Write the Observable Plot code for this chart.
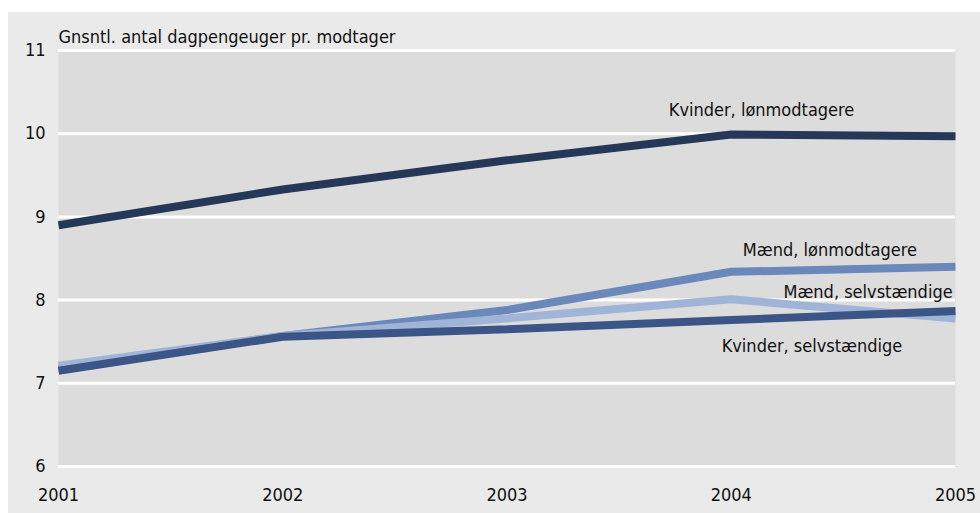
<!DOCTYPE html>
<html>
<head>
<meta charset="utf-8">
<script src="https://cdn.jsdelivr.net/npm/d3@7"></script>
<script src="https://cdn.jsdelivr.net/npm/@observablehq/plot@0.6"></script>
<style>
  html, body { margin: 0; padding: 0; background: #ffffff; }
  #wrap { position: relative; width: 980px; height: 513px; overflow: hidden; }
  #bg { position: absolute; left: 8px; top: 12px; width: 972px; height: 501px; background: #eaeaea; }
  #chart { position: absolute; left: 0; top: 0; }
  #chart svg { background: transparent !important; }
</style>
</head>
<body>
<div id="wrap"><div id="bg"></div><div id="chart"></div></div>
<script>
const years = [2001, 2002, 2003, 2004, 2005];
const seriesNames = ["Mænd, lønmodtagere", "Mænd, selvstændige", "Kvinder, selvstændige", "Kvinder, lønmodtagere"];
const kvinderLon = [8.90, 9.33, 9.68, 9.99, 9.97];
const maendLon = [7.17, 7.57, 7.88, 8.34, 8.40];
const maendSelv = [7.21, 7.57, 7.78, 8.01, 7.78];
const kvinderSelv = [7.15, 7.56, 7.65, 7.76, 7.87];
const yTicks = [6, 7, 8, 9, 10, 11];
const yTitle = "Gnsntl. antal dagpengeuger pr. modtager";
const labelX = [2004.44, 2004.61, 2004.36, 2004.135];
const labelY = [8.60, 8.09, 7.44, 10.28];

const valuesBySeries = [maendLon, maendSelv, kvinderSelv, kvinderLon];
const colors = ["#6b88bb", "#a0b4d8", "#3c5587", "#253858"];
const rows = [];
seriesNames.forEach((s, i) => years.forEach((yr, j) => rows.push({series: s, year: yr, value: valuesBySeries[i][j]})));
const labels = seriesNames.map((s, i) => ({series: s, x: labelX[i], y: labelY[i]}));

const font = "'DejaVu Sans Condensed', 'DejaVu Sans', sans-serif";

const chart = Plot.plot({
  width: 980,
  height: 513,
  marginLeft: 58,
  marginRight: 25,
  marginTop: 50,
  marginBottom: 47,
  style: {fontFamily: font, fontSize: "18px", color: "#111", background: "transparent"},
  x: {domain: [2001, 2005], ticks: years, tickFormat: d => String(d), tickSize: 0, tickPadding: 22, label: null},
  y: {domain: [6, 11], ticks: yTicks, tickFormat: d => String(d), tickSize: 0, tickPadding: 13, label: null},
  color: {domain: seriesNames, range: colors},
  marks: [
    Plot.frame({fill: "#dcdcdc", stroke: null}),
    Plot.gridY(yTicks, {stroke: "#ffffff", strokeOpacity: 1, strokeWidth: 3}),
    Plot.axisY({ticks: yTicks, tickFormat: d => String(d), tickSize: 0, tickPadding: 13, fontSize: 18, label: null}),
    Plot.axisX({ticks: years, tickFormat: d => String(d), tickSize: 0, tickPadding: 22, fontSize: 18, label: null}),
    Plot.line(rows, {x: "year", y: "value", z: "series", stroke: "series", strokeWidth: 8, strokeLinejoin: "miter", strokeLinecap: "butt"}),
    Plot.text(labels, {x: "x", y: "y", text: "series", fontSize: 18, fill: "#111"}),
    Plot.text([yTitle], {frameAnchor: "top-left", text: d => d, dy: -20, fontSize: 18, fill: "#111", textAnchor: "start"})
  ]
});
document.getElementById("chart").appendChild(chart);
</script>
</body>
</html>
